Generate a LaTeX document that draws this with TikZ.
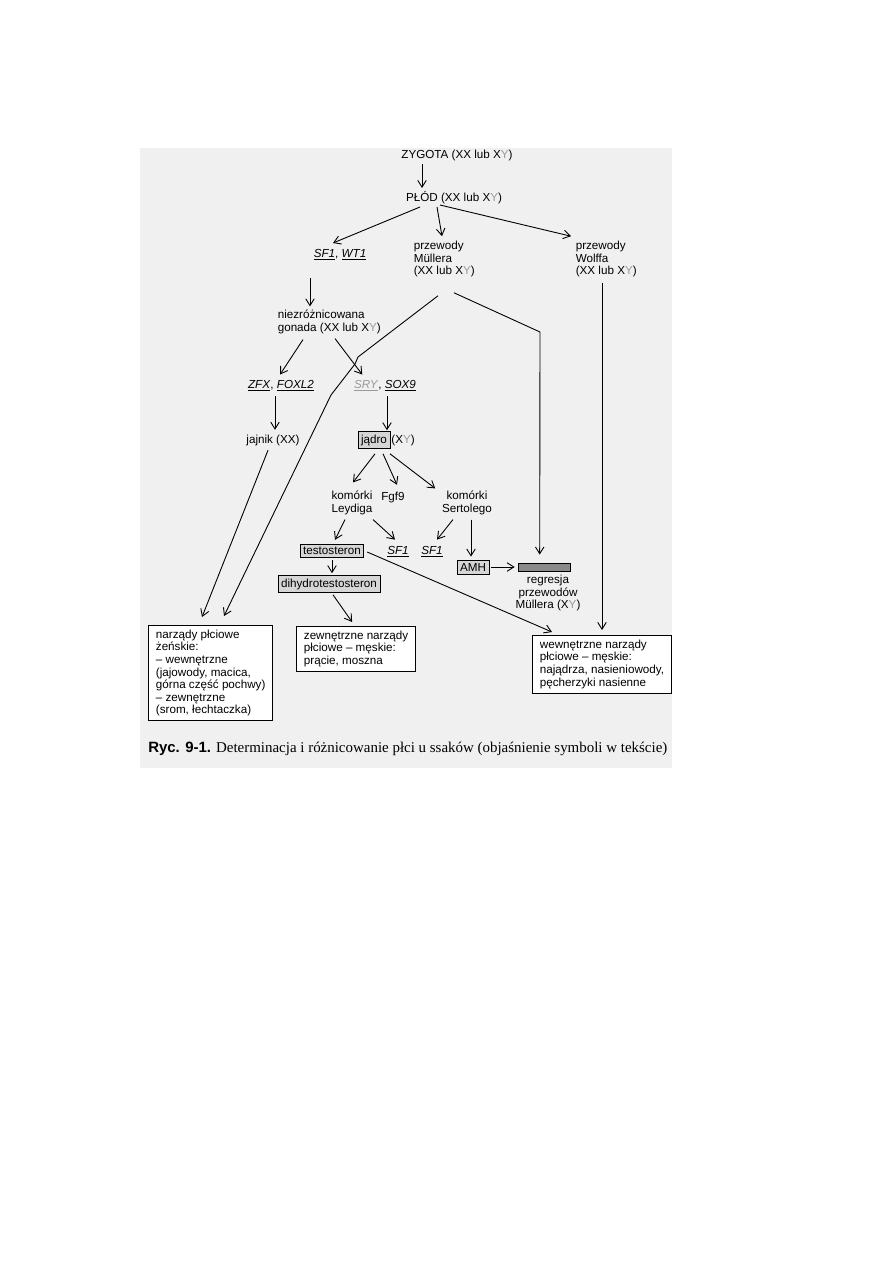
\documentclass[tikz,border=0pt]{standalone}
\usepackage{fontspec}
\setmainfont{Liberation Serif}
\setsansfont{Liberation Sans}
\usetikzlibrary{arrows.meta, calc}
\definecolor{scan}{HTML}{F0F0F0}
\definecolor{shade}{HTML}{D6D6D6}
\definecolor{bardark}{HTML}{8A8A8A}
\definecolor{ygrey}{HTML}{9A9A9A}
\newcommand{\yg}{\textcolor{ygrey}{Y}}
\newcommand{\gene}[1]{\underline{\textit{#1}}}
\tikzset{
  lbl/.style={font=\sffamily\fontsize{7.8}{8.4}\selectfont, inner sep=1pt, align=center},
  lbll/.style={lbl, align=left},
  shadebox/.style={lbl, draw, fill=shade, line width=0.5pt, inner sep=2pt},
  organ/.style={lbll, draw, fill=white, line width=0.6pt, inner xsep=5pt, inner ysep=3pt, anchor=north west},
  arrow/.style={-{Straight Barb[length=1.6mm, width=2mm]}, line width=0.6pt},
}

\begin{document}
\begin{tikzpicture}[x=0.023516cm, y=-0.023516cm]
\useasboundingbox (0,0) rectangle (893,1263);
\fill[scan] (140,148) rectangle (672,768);

% top of the scheme
\node[lbl] (zyg) at (457,155) {ZYGOTA (XX lub X\yg)};
\node[lbl] (plod) at (454,198) {PŁÓD (XX lub X\yg)};
\node[lbl] (sf) at (340,255) {\gene{SF1}, \gene{WT1}};
\node[lbll, anchor=west] (mul) at (412,259) {przewody\\Müllera\\(XX lub X\yg)};
\node[lbll, anchor=west] (wol) at (574,259) {przewody\\Wolffa\\(XX lub X\yg)};
\node[lbll, anchor=west] (gon) at (276,322) {niezróżnicowana\\gonada (XX lub X\yg)};
\node[lbl] (zfx) at (281,386) {\gene{ZFX}, \gene{FOXL2}};
\node[lbl] (sry) at (385,386) {\textcolor{ygrey}{\gene{SRY}}, \gene{SOX9}};
\node[lbl] (jaj) at (273,440) {jajnik (XX)};
\node[shadebox] (jad) at (374,440) {jądro};
\node[lbl, anchor=west, inner xsep=0.5pt] (jadxy) at (jad.east) {(X\yg)};

% male branch
\node[lbl] (ley) at (352,503) {komórki\\Leydiga};
\node[lbl] (fgf) at (393,497) {Fgf9};
\node[lbl] (ser) at (467,503) {komórki\\Sertolego};
\node[shadebox] (tes) at (332,551) {testosteron};
\node[lbl] (sfa) at (398,552) {\gene{SF1}};
\node[lbl] (sfb) at (432,552) {\gene{SF1}};
\node[shadebox] (amh) at (473,567) {AMH};
\node[draw, fill=bardark, line width=0.5pt, minimum width=12.2mm, minimum height=1.9mm, inner sep=0pt] (bar) at (544,567) {};
\node[lbl] (reg) at (548,593) {regresja\\przewodów\\Müllera (X\yg)};
\node[shadebox] (dih) at (329,584) {dihydrotestosteron};

% organs
\node[organ] (fem) at (148,625) {narządy płciowe\\żeńskie:\\– wewnętrzne\\(jajowody, macica,\\górna część pochwy)\\– zewnętrzne\\(srom, łechtaczka)};
\node[organ] (ext) at (296,626) {zewnętrzne narządy\\płciowe – męskie:\\prącie, moszna};
\node[organ] (male) at (532,635) {wewnętrzne narządy\\płciowe – męskie:\\najądrza, nasieniowody,\\pęcherzyki nasienne};

\node[anchor=west, inner sep=0pt, font=\fontsize{10}{11}\selectfont] (cap) at (148,749) {\textsf{\textbf{Ryc. 9-1.}} Determinacja i różnicowanie płci u ssaków (objaśnienie symboli w tekście)};

\coordinate (m1) at (358,357);
\coordinate (m2) at (355,364);
\coordinate (m3) at (331,395);
\coordinate (mr) at (540,332);

\draw[arrow] ($(zyg)+(-35,9)$) -- ($(plod)+(-32,-10)$);
\draw[arrow] ($(plod)+(-34,9)$) -- ($(sf)+(-7,-12)$);
\draw[arrow] ($(plod)+(-17,9)$) -- ($(mul.north west)+(30,-3)$);
\draw[arrow] ($(plod)+(-14,7)$) -- ($(wol.north west)+(-3,-3)$);
\draw[arrow] ($(sf)+(-30,23)$) -- ($(gon.north west)+(34,-2)$);
\draw[arrow] ($(gon.south west)+(27,4)$) -- ($(zfx.north)+(-1,-4)$);
\draw[arrow] ($(gon.south west)+(59,3)$) -- ($(sry.north west)+(10,-4)$);
\draw[arrow] ($(zfx.south)+(-6,3)$) -- ($(jaj.north)+(2,-3)$);
\draw[arrow] ($(sry.south)+(2,3)$) -- ($(jad.north)+(13,-1)$);
\draw[arrow] ($(jaj.south)+(-5,3)$) -- ($(fem.north west)+(54,-8)$);
\draw[arrow] ($(mul.south west)+(26,17)$) -- (m1) -- (m2) -- (m3) -- ($(fem.north west)+(76,-9)$);
\draw[arrow] ($(mul.south west)+(42,14)$) -- (mr) -- ($(bar.north west)+(22,-8)$);
\draw[arrow] ($(wol.south west)+(28,4)$) -- ($(male.north west)+(70,-5)$);

\draw[arrow] ($(jad.south)+(1,5)$) -- ($(ley.north)+(1,-7)$);
\draw[arrow] ($(jad.south)+(9,5)$) -- ($(fgf.north)+(4,-5)$);
\draw[arrow] ($(jad.south)+(16,5)$) -- ($(ser.north west)+(-5,-1)$);
\draw[arrow] ($(ley.south)+(-7,3)$) -- ($(tes.north)+(3,-4)$);
\draw[arrow] ($(ley.south)+(21,3)$) -- ($(sfa.north)+(-3,-5)$);
\draw[arrow] ($(ser.south)+(-14,3)$) -- ($(sfb.north)+(5,-5)$);
\draw[arrow] ($(ser.south)+(4,3)$) -- ($(amh.north)+(-2,-3)$);
\draw[arrow] ($(amh.east)+(2,0)$) -- ($(bar.west)+(-3,0)$);
\draw[arrow] ($(tes.south)+(0,2)$) -- ($(tes.south |- dih.north)+(0,-2)$);
\draw[arrow] ($(tes.east)+(3,1)$) -- ($(male.north west)+(20,-3)$);
\draw[arrow] ($(dih.south)+(4,2)$) -- ($(ext.north)+(-4,-4)$);
\end{tikzpicture}
\end{document}
